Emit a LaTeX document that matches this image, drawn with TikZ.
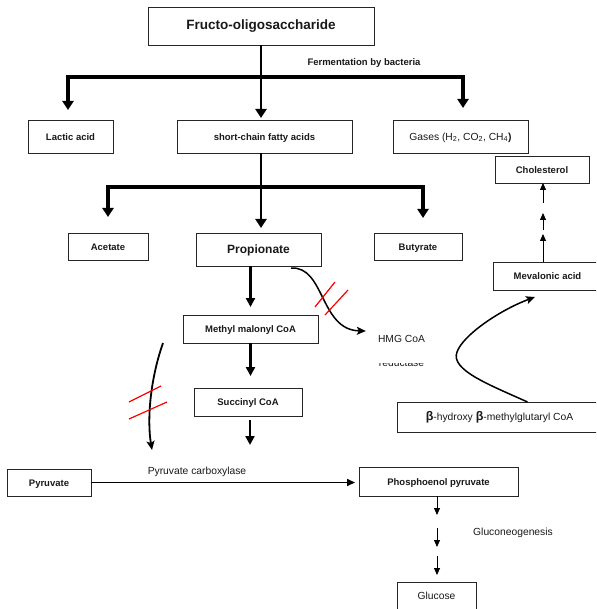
\documentclass[tikz,border=0pt]{standalone}
\usepackage{fontspec}
\setmainfont{Liberation Sans}
\usetikzlibrary{arrows.meta}
\newcommand\bfl{\fontsize{9.5}{11}\selectfont\bfseries}
\newcommand\rgl{\fontsize{10.3}{12}\selectfont}
\tikzset{
  bigtip/.tip={Triangle[width=11pt,length=9pt]},
  midtip/.tip={Triangle[width=9pt,length=9pt]},
  smalltip/.tip={Triangle[width=6pt,length=7pt]},
  curvtip/.tip={Stealth[width=8pt,length=9pt,inset=2pt]},
}
\begin{document}
\begin{tikzpicture}[x=1pt,y=-1pt,
  box/.style={draw=black!85, line width=0.8pt, inner sep=0pt, outer sep=0pt, font=\bfl, text=black!90, text height=1.38ex, text depth=0pt},
  lab/.style={inner sep=0pt, font=\rgl, text=black!90, text height=1.38ex, text depth=0pt},
  thk/.style={line width=2.8pt, -bigtip},
  bar/.style={line width=3.6pt, line join=miter, bigtip-bigtip},
  mid/.style={line width=2.4pt, -midtip},
  thinarr/.style={line width=0.8pt, -smalltip},
  curv/.style={line width=1.5pt, -curvtip},
  slash/.style={red, line width=1.2pt},
]
\useasboundingbox (0,0) rectangle (596,609);
\fill[white] (0,0) rectangle (596,609);
\clip (0,0) rectangle (596,609);

% boxes
\node[box, minimum width=226pt, minimum height=38pt, font=\fontsize{13.5}{15}\selectfont\bfseries] (fos) at (261,26) {Fructo-oligosaccharide};
\node[box, minimum width=85pt, minimum height=33pt] (lactic) at (70.5,136.5) {Lactic acid};
\node[box, minimum width=175pt, minimum height=33pt] (scfa) at (264.5,136.5) {short-chain fatty acids};
\node[box, minimum width=135pt, minimum height=33pt, font=\rgl] (gases) at (460.5,136.5) {Gases (H\textsubscript{2}, CO\textsubscript{2}, CH\textsubscript{4}{\bfseries )}};
\node[box, minimum width=94pt, minimum height=27pt] (chol) at (542,169.5) {Cholesterol};
\node[box, minimum width=80pt, minimum height=27pt] (acet) at (108,246.5) {Acetate};
\node[box, minimum width=125pt, minimum height=33pt, font=\fontsize{12}{14}\selectfont\bfseries] (prop) at (258.5,249.5) {Propionate};
\node[box, minimum width=88pt, minimum height=27pt] (buty) at (418,246.5) {Butyrate};
\node[box, minimum width=109pt, minimum height=28pt] (mev) at (547.5,276) {Mevalonic acid};
\node[box, minimum width=135pt, minimum height=28pt] (meth) at (250.5,329) {Methyl malonyl CoA};
\node[box, minimum width=108pt, minimum height=28pt] (succ) at (248,402) {Succinyl CoA};
\node[box, minimum width=205pt, minimum height=30pt, font=\rgl] (beta) at (499.5,417) {{\fontsize{12.5}{13}\selectfont\bfseries β}-hydroxy {\fontsize{12.5}{13}\selectfont\bfseries β}-methylglutaryl CoA};
\node[box, minimum width=84pt, minimum height=27pt] (pyr) at (49,482.5) {Pyruvate};
\node[box, minimum width=159pt, minimum height=29pt] (pep) at (438.5,481.5) {Phosphoenol pyruvate};
\node[box, minimum width=79pt, minimum height=28pt, font=\rgl] (gluc) at (436.5,596) {Glucose};

% free labels
\node[lab, font=\bfl] (ferm) at (364,62) {Fermentation by bacteria};
\node[lab] (hmg) at (401.5,339) {HMG CoA};
\begin{scope}
  \clip (370,363.5) rectangle (440,372);
  \node[lab, anchor=base] (red) at (401.5,366) {reductase};
\end{scope}
\node[lab] (pc) at (197,471) {Pyruvate carboxylase};
\node[lab] (gn) at (513,532) {Gluconeogenesis};

% first branching
\draw[thk, shorten >=2pt] (fos.south) -- (fos.south |- scfa.north);
\path (fos.south) ++(0,32) coordinate (j1);
\path (lactic.north) ++(-2.5,-10) coordinate (laTip);
\path (gases.north) ++(2.5,-12) coordinate (gaTip);
\draw[bar] (laTip) |- (j1) -| (gaTip);

% second branching
\draw[thk, shorten >=5pt] (scfa.south -| j1) -- (j1 |- prop.north);
\path (scfa.south -| j1) ++(0,34) coordinate (j2);
\path (acet.north) ++(0,-16) coordinate (acTip);
\path (buty.north) ++(5,-15) coordinate (buTip);
\draw[bar] (acTip) |- (j2) -| (buTip);

% propionate pathway
\draw[mid, shorten >=8pt] (prop.south -| meth.north) -- (meth.north);
\draw[mid, shorten >=12pt] (meth.south) -- (meth.south |- succ.north);
\path (succ.south) ++(2,29) coordinate (sucEnd);
\draw[mid, shorten <=4pt] (succ.south -| sucEnd) -- (sucEnd);

% pyruvate to PEP
\draw[line width=1.6pt, -{Triangle[width=7pt,length=8pt]}, shorten >=4pt] (pyr.east) -- (pyr.east -| pep.west);

% gluconeogenesis arrows
\path (pep.south) ++(-1.5,0) coordinate (g0);
\path (g0) ++(0,19) coordinate (g1);
\path (g0) ++(0,32) coordinate (g2);
\path (g0) ++(0,51) coordinate (g3);
\path (g0) ++(0,60) coordinate (g4);
\draw[thinarr] (g0) -- (g1);
\draw[thinarr] (g2) -- (g3);
\draw[thinarr, shorten >=7pt] (g4) -- (g4 |- gluc.north);

% cholesterol arrows
\path (mev.north) ++(-4.5,0) coordinate (c0);
\path (c0) ++(0,-28) coordinate (c1);
\path (c0) ++(0,-32) coordinate (c2);
\path (c0) ++(0,-49) coordinate (c3);
\path (c0) ++(0,-59) coordinate (c4);
\draw[thinarr] (c0) -- (c1);
\draw[thinarr] (c2) -- (c3);
\draw[thinarr] (c4) -- (c4 |- chol.south);

% propionate -> HMG CoA (blocked)
\path (prop.south east) ++(-30,2) coordinate (hs);
\path (hmg.west) ++(-12,-8) coordinate (he);
\draw[curv] (hs) .. controls +(34,-2) and +(-46,-1) .. (he);
\draw[slash] (315,307) -- (335,282);
\draw[slash] (325,315) -- (348,290);

% blocked curve to pyruvate
\coordinate (ls) at (163,343);
\coordinate (le) at (152,450);
\draw[curv, line width=1.8pt] (ls) .. controls (150,380) and (147,420) .. (le);
\draw[slash] (129,402) -- (161,386);
\draw[slash] (129,419) -- (167,402);

% beta-hydroxy -> mevalonic
\path (beta.north) ++(28,0) coordinate (bs);
\path (mev.south) ++(-12.5,7) coordinate (be);
\draw[curv] (bs) .. controls (490,385) and (450,370) .. (457,352) .. controls (463,335) and (500,310) .. (be);
\end{tikzpicture}
\end{document}
